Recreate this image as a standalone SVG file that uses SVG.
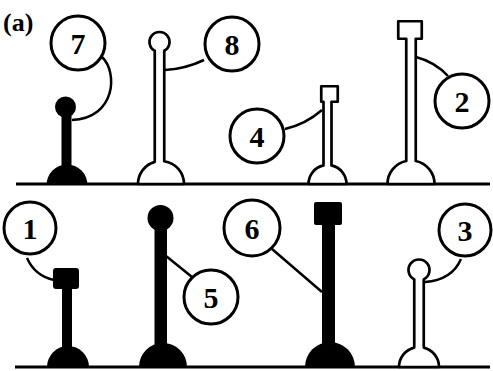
<svg xmlns="http://www.w3.org/2000/svg" width="493" height="371" viewBox="0 0 493 371">
<style>
.base{stroke:#000;stroke-width:3;fill:none}
.con{stroke:#000;stroke-width:2.5;fill:none}
.hollow{fill:#fff;stroke:#000;stroke-width:2.7;stroke-linejoin:round}
.solid{fill:#000;stroke:none}
.call circle{fill:#fff;stroke:#000;stroke-width:3}
.call text{font-family:"Liberation Serif",serif;font-weight:bold;font-size:30px;text-anchor:middle;fill:#000}
.lbl{font-family:"Liberation Serif",serif;font-weight:bold;font-size:26px;fill:#000}
</style>
<rect width="493" height="371" fill="#fff"/>
<text class="lbl" x="3" y="31">(a)</text>
<line class="base" x1="16" y1="184" x2="490" y2="184"/>
<line class="base" x1="15" y1="367" x2="490" y2="367"/>
<g id="connectors">
<path class="con" d="M102,57 C118,72 116,118 72,120"/>
<path class="con" d="M165,70 Q185,69 204,60"/>
<path class="con" d="M285,129 Q306,124 322,110"/>
<path class="con" d="M416,57 Q435,62 448,76"/>
<path class="con" d="M27,258 Q35,276 54,280"/>
<path class="con" d="M166,256 L192,277"/>
<path class="con" d="M272,249 L322,292"/>
<path class="con" d="M425,282 Q452,280 461,259"/>
</g>
<g id="post7">
<circle class="solid" cx="65.5" cy="107" r="10.5"/>
<rect class="solid" x="61.5" y="110" width="10" height="60"/>
<path class="solid" d="M46.5,185 A20.5,20.5 0 0 1 87.5,185 Z"/>
</g>
<g id="post8">
<path class="hollow" d="M154.75,50.8 L154.75,161.87 A23 23 0 0 0 138 184 L184 184 A23 23 0 0 0 164.25 161.23 L164.25 50.8 A10 10 0 1 0 154.75 50.8 Z"/>
</g>
<g id="post4">
<path class="hollow" d="M323.5,101.75 L323.5,165.4 A19 19 0 0 0 308.5 184 L346.5 184 A19 19 0 0 0 331.5 165.4 L331.5 101.75 L337.75 101.75 L337.75 86.25 L321.25 86.25 L321.25 101.75 Z"/>
</g>
<g id="post2">
<path class="hollow" d="M406.25,38.75 L406.25,161 A23.5 23.5 0 0 0 387.5 184 L434.5 184 A23.5 23.5 0 0 0 415.75 161 L415.75 38.75 L421.75 38.75 L421.75 21.25 L398.25 21.25 L398.25 38.75 Z"/>
</g>
<g id="post1">
<rect class="solid" x="53" y="268" width="26" height="21" rx="3"/>
<rect class="solid" x="62" y="285" width="10" height="70"/>
<path class="solid" d="M47,367 A21,21 0 0 1 89,367 Z"/>
</g>
<g id="post5">
<circle class="solid" cx="160.5" cy="218" r="13"/>
<rect class="solid" x="154.5" y="222" width="12.5" height="130"/>
<path class="solid" d="M139,367 A24,24 0 0 1 187,367 Z"/>
</g>
<g id="post6">
<rect class="solid" x="314" y="202" width="28" height="23" rx="2"/>
<rect class="solid" x="322" y="220" width="13" height="130"/>
<path class="solid" d="M305,367 A25,25 0 0 1 355,367 Z"/>
</g>
<g id="post3">
<path class="hollow" d="M414.25,279.36 L414.25,347.57 A20 20 0 0 0 399 367 L439 367 A20 20 0 0 0 423.75 347.57 L423.75 279.36 A10.5 10.5 0 1 0 414.25 279.36 Z"/>
</g>
<g id="callout7" class="call"><circle cx="78" cy="43" r="27"/><text x="78" y="53.5">7</text></g>
<g id="callout8" class="call"><circle cx="232" cy="44" r="27"/><text x="232" y="54.5">8</text></g>
<g id="callout4" class="call"><circle cx="257" cy="136" r="27"/><text x="257" y="146.5">4</text></g>
<g id="callout2" class="call"><circle cx="462" cy="101" r="27"/><text x="462" y="111.5">2</text></g>
<g id="callout1" class="call"><circle cx="30" cy="228" r="26"/><text x="30" y="238.5">1</text></g>
<g id="callout5" class="call"><circle cx="211" cy="297" r="27"/><text x="211" y="307.5">5</text></g>
<g id="callout6" class="call"><circle cx="252" cy="228" r="28"/><text x="252" y="238.5">6</text></g>
<g id="callout3" class="call"><circle cx="465" cy="230" r="26"/><text x="465" y="240.5">3</text></g>
</svg>
